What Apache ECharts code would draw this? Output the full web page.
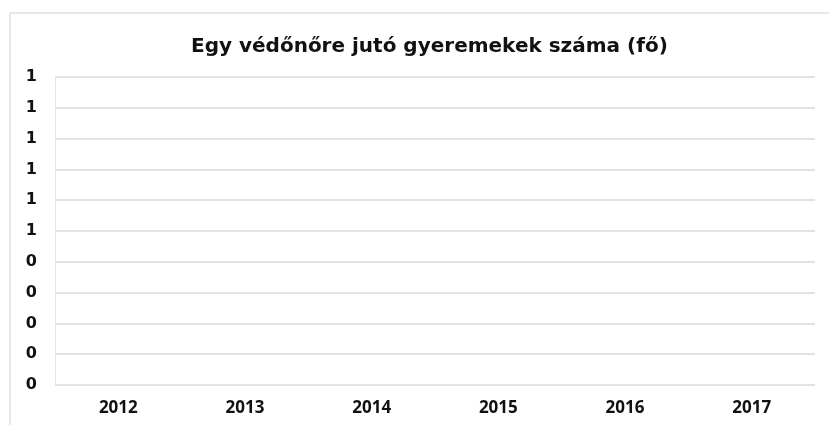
<!DOCTYPE html>
<html>
<head>
<meta charset="utf-8">
<script src="https://cdn.jsdelivr.net/npm/echarts@6/dist/echarts.min.js"></script>
<style>
  html, body { margin: 0; padding: 0; background: #fff; }
  #chart { width: 829px; height: 425px; }
</style>
</head>
<body>
<div id="chart"></div>
<script>
// years on the category axis
const years = ["2012", "2013", "2014", "2015", "2016", "2017"];
// no values are drawn in the source chart
const childrenPerNurse = [null, null, null, null, null, null];
// value axis range (labels are rounded to whole numbers, as in the original)
const yMin = 0;
const yMax = 1;
const yStep = 0.1;

const chart = echarts.init(document.getElementById("chart"), null, { renderer: "canvas" });

chart.setOption({
  animation: false,
  backgroundColor: "#fff",
  title: {
    text: "Egy védőnőre jutó gyeremekek száma (fő)",
    left: 186,
    top: 32,
    textStyle: { fontFamily: "DejaVu Sans", fontWeight: "bold", fontSize: 20, color: "#111" }
  },
  grid: { left: 55, right: 14, top: 77, bottom: 40 },
  xAxis: {
    type: "category",
    data: years,
    axisLine: { show: false },
    axisTick: { show: false },
    axisLabel: {
      margin: 15,
      fontFamily: "Open Sans", fontWeight: "bold", fontSize: 17, color: "#111"
    }
  },
  yAxis: {
    type: "value",
    min: yMin,
    max: yMax,
    interval: yStep,
    axisLine: { show: true, lineStyle: { color: "#e2e2e2", width: 1 } },
    axisTick: { show: false },
    splitLine: { lineStyle: { color: "#d9d9d9", width: 1.5 } },
    axisLabel: {
      margin: 18,
      fontFamily: "DejaVu Sans", fontWeight: "bold", fontSize: 16, color: "#111",
      formatter: (v) => String(Math.round(v))
    }
  },
  graphic: [{
    type: "rect",
    shape: { x: 10, y: 13, width: 830, height: 420 },
    style: { fill: null, stroke: "#cfcfcf", lineWidth: 1 },
    silent: true
  }],
  series: [{
    name: "Egy védőnőre jutó gyermekek",
    type: "line",
    data: childrenPerNurse,
    showSymbol: false,
    lineStyle: { color: "#4f81bd" }
  }]
});
</script>
</body>
</html>
